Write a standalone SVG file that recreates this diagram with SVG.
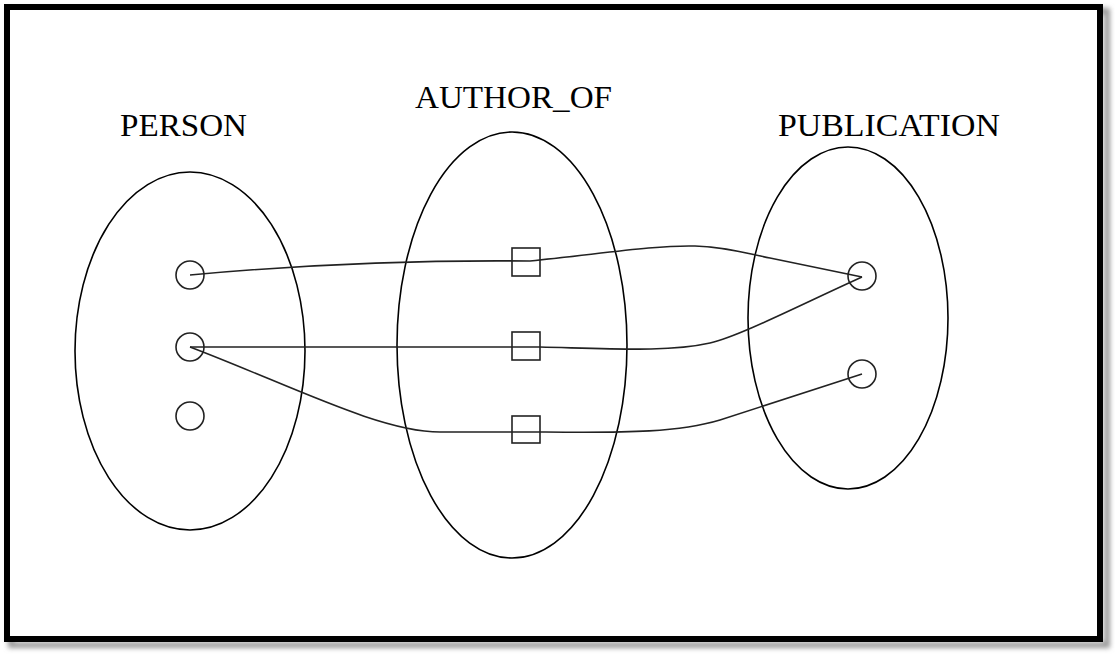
<svg xmlns="http://www.w3.org/2000/svg" width="1115" height="655" viewBox="0 0 1115 655">
<defs>
<style>
.set{fill:none;stroke:#000;stroke-width:1.6}
.el{fill:none;stroke:#222;stroke-width:1.6}
.ln{fill:none;stroke:#222;stroke-width:1.6}
.lbl{font-family:"Liberation Serif","Times New Roman",serif;font-size:31px;fill:#000}
</style>
<filter id="sh" x="-5%" y="-5%" width="110%" height="110%">
<feGaussianBlur stdDeviation="2.5"/>
</filter>
</defs>
<rect x="0" y="0" width="1115" height="655" fill="#fff"/>
<rect x="11" y="11" width="1096" height="634" fill="none" stroke="#999" stroke-width="6" filter="url(#sh)"/>
<rect x="7" y="7" width="1093" height="632" fill="#fff" stroke="#000" stroke-width="6"/>
<g id="person">
<ellipse class="set" cx="190" cy="351" rx="115" ry="179"/>
<text class="lbl" x="120" y="136" textLength="127" lengthAdjust="spacingAndGlyphs">PERSON</text>
</g>
<g id="author_of">
<ellipse class="set" cx="512" cy="345" rx="115" ry="213"/>
<text class="lbl" x="415" y="108" textLength="197" lengthAdjust="spacingAndGlyphs">AUTHOR_OF</text>
</g>
<g id="publication">
<ellipse class="set" cx="848" cy="318" rx="100" ry="171"/>
<text class="lbl" x="778" y="136" textLength="222" lengthAdjust="spacingAndGlyphs">PUBLICATION</text>
</g>
<g id="connectors">
<path class="ln" d="M190,275 C320,263 430,260 530,261 C600,254 655,245 695,246 C725,247 745,253 770,258 L862,277"/>
<path class="ln" d="M190,347 L540,347 C620,349 670,352 710,343 C740,336 800,305 862,277"/>
<path class="ln" d="M190,347 C290,385 380,432 440,432 L545,432 C630,433 680,432 720,420 L862,374"/>
</g>
<g id="p1"><circle class="el" cx="190" cy="275" r="14"/></g>
<g id="p2"><circle class="el" cx="190" cy="347" r="14"/></g>
<g id="p3"><circle class="el" cx="190" cy="416" r="14"/></g>
<g id="a1"><rect class="el" x="512" y="248" width="28" height="28"/></g>
<g id="a2"><rect class="el" x="512" y="332" width="28" height="28"/></g>
<g id="a3"><rect class="el" x="512" y="416" width="28" height="27"/></g>
<g id="b1"><circle class="el" cx="862" cy="276" r="14"/></g>
<g id="b2"><circle class="el" cx="862" cy="374" r="14"/></g>
</svg>
